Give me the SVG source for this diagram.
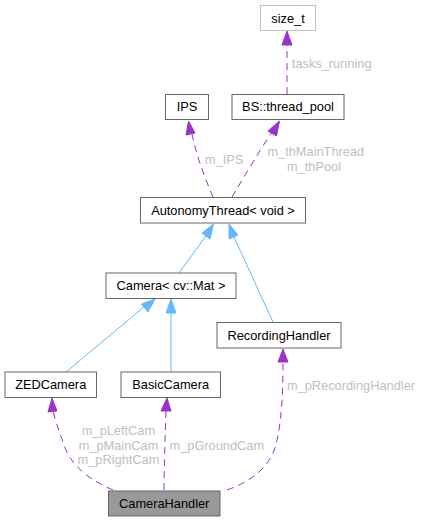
<svg xmlns="http://www.w3.org/2000/svg" width="421" height="522" viewBox="0 0 421 522">
<style>
.n{fill:#ffffff;stroke:#666666;stroke-width:1}
.g{fill:#ffffff;stroke:#bfbfbf;stroke-width:1}
.h{fill:#999999;stroke:#666666;stroke-width:1}
.t{font-family:"Liberation Sans",Arial,sans-serif;font-size:12.8px;fill:#000000;text-anchor:middle}
.l{font-family:"Liberation Sans",Arial,sans-serif;font-size:12.8px;fill:#c0c0c0;text-anchor:middle}
.b{fill:none;stroke:#63b8ff;stroke-width:1}
.p{fill:none;stroke:#9a32cd;stroke-width:1;stroke-dasharray:7,5}
.bh{fill:#63b8ff;stroke:#63b8ff}
.ph{fill:#9a32cd;stroke:#9a32cd}
</style>
<rect width="421" height="522" fill="#ffffff"/>
<g id="connectors">
<path class="p" d="M287,94 L287,44"/>
<polygon class="ph" points="287,31 282,45 292,45"/>
<path class="p" d="M213,197 C205,178 197,158 192,134"/>
<polygon class="ph" points="188.5,121 186,135 195,133"/>
<path class="p" d="M232,197 C245,175 260,150 272,132"/>
<polygon class="ph" points="279.5,121 268,131 276.5,136"/>
<path class="b" d="M179,273 L206,236"/>
<polygon class="bh" points="213.5,224 202,233 210,239"/>
<path class="b" d="M273,322 L234,237"/>
<polygon class="bh" points="229,224 229,239 238,235"/>
<path class="b" d="M66,372 L144,307"/>
<polygon class="bh" points="155,299 141.5,304 148,312"/>
<path class="b" d="M171,372 L171,313"/>
<polygon class="bh" points="171,299 166,313 176,313"/>
<path class="p" d="M113,490 C92,481 70,467 63,442 C58,428 55,420 53,411"/>
<polygon class="ph" points="52,398 48,412 57,411"/>
<path class="p" d="M164,490 C164,470 165,440 166,411"/>
<polygon class="ph" points="167,398 161,411 171,411"/>
<path class="p" d="M227,490 C255,480 270,465 276,445 C282,420 283,390 283,362"/>
<polygon class="ph" points="283,349 278,362 288,362"/>
<text class="l" x="331.7" y="67.8">tasks_running</text>
<text class="l" x="224.2" y="164">m_IPS</text>
<text class="l" x="315.8" y="156.2">m_thMainThread</text>
<text class="l" x="314" y="171">m_thPool</text>
<text class="l" x="118.5" y="434.5">m_pLeftCam</text>
<text class="l" x="118.5" y="449.5">m_pMainCam</text>
<text class="l" x="118.5" y="464">m_pRightCam</text>
<text class="l" x="216.8" y="449.5">m_pGroundCam</text>
<text class="l" x="351" y="390">m_pRecordingHandler</text>
</g>
<g id="size_t"><rect class="g" x="260.5" y="5.5" width="55" height="25"/><text class="t" x="288" y="22.5">size_t</text></g>
<g id="IPS"><rect class="n" x="165.5" y="94.5" width="43" height="25"/><text class="t" x="187" y="111">IPS</text></g>
<g id="thread_pool"><rect class="n" x="232" y="94.5" width="112" height="25"/><text class="t" x="288" y="111">BS::thread_pool</text></g>
<g id="AutonomyThread"><rect class="n" x="140.5" y="197.5" width="165" height="25.5"/><text class="t" x="223" y="215">AutonomyThread&lt; void &gt;</text></g>
<g id="Camera"><rect class="n" x="106" y="273" width="130" height="25.5"/><text class="t" x="171" y="290">Camera&lt; cv::Mat &gt;</text></g>
<g id="RecordingHandler"><rect class="n" x="217" y="322.5" width="124" height="25.5"/><text class="t" x="279" y="339.5">RecordingHandler</text></g>
<g id="ZEDCamera"><rect class="n" x="5" y="372" width="91.5" height="25.5"/><text class="t" x="50.7" y="389">ZEDCamera</text></g>
<g id="BasicCamera"><rect class="n" x="121" y="372" width="99.5" height="25.5"/><text class="t" x="170.7" y="389">BasicCamera</text></g>
<g id="CameraHandler"><rect class="h" x="108.5" y="491" width="111.5" height="25"/><text class="t" x="164.2" y="508">CameraHandler</text></g>
</svg>
